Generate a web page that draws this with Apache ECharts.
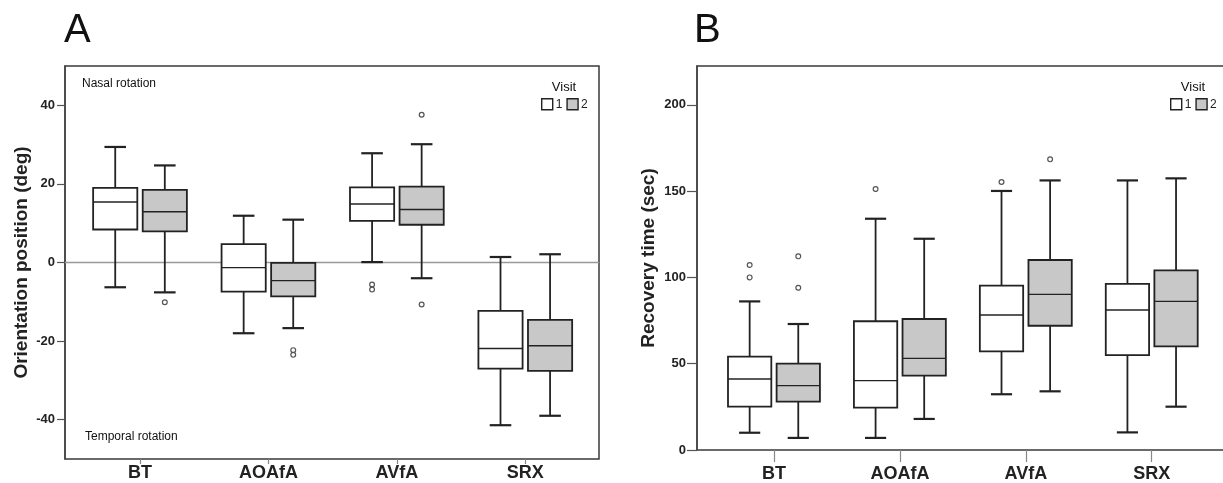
<!DOCTYPE html>
<html>
<head>
<meta charset="utf-8">
<script src="https://cdn.jsdelivr.net/npm/echarts@6.0.0/dist/echarts.min.js"></script>
<style>
  html, body { margin: 0; padding: 0; background: #fff; }
  #chart { width: 1223px; height: 483px; }
</style>
</head>
<body>
<div id="chart"></div>
<script>
const categories = ['BT', 'AOAfA', 'AVfA', 'SRX'];

// box stats per category: [lower whisker, Q1, median, Q3, upper whisker]
const orientVisit1 = [
  [-6.3, 8.4, 15.4, 19.0, 29.4],
  [-18.0, -7.4, -1.3, 4.7, 11.9],
  [0.1, 10.6, 14.9, 19.1, 27.8],
  [-41.4, -27.0, -21.9, -12.3, 1.4]
];
const orientVisit2 = [
  [-7.6, 7.9, 12.9, 18.5, 24.7],
  [-16.7, -8.6, -4.6, -0.1, 10.9],
  [-4.0, 9.6, 13.5, 19.3, 30.1],
  [-39.0, -27.6, -21.2, -14.6, 2.1]
];
// outliers: [category index, value]
const orientOut1 = [[2, -5.6], [2, -6.9]];
const orientOut2 = [[0, -10.1], [1, -22.3], [1, -23.5], [2, 37.6], [2, -10.7]];

const recovVisit1 = [
  [10.0, 25.1, 41.1, 54.1, 86.1],
  [7.0, 24.5, 40.2, 74.6, 134.0],
  [32.3, 57.2, 78.2, 95.2, 150.1],
  [10.2, 55.0, 81.1, 96.2, 156.2]
];
const recovVisit2 = [
  [7.0, 28.0, 37.3, 50.0, 73.0],
  [18.0, 43.1, 53.1, 75.9, 122.4],
  [34.0, 72.0, 90.2, 110.1, 156.2],
  [25.1, 60.1, 86.1, 104.1, 157.4]
];
const recovOut1 = [[0, 107.2], [0, 100.0], [1, 151.2], [2, 155.3]];
const recovOut2 = [[0, 112.2], [0, 94.0], [2, 168.4]];

const orientTicks = [-40, -20, 0, 20, 40];
const recovTicks = [0, 50, 100, 150, 200];
const zeroLine = 0;

const FONT = 'Liberation Sans, Arial, sans-serif';
const INK = '#222';
const GREY_FILL = '#c8c8c8';

function boxItem(side, fill) {
  return function (params, api) {
    const idx = api.value(0);
    const band = api.size([1, 0])[0];
    const cx = api.coord([idx, 0])[0] + side * band * 0.193;
    const hw = band * 0.172;
    const cw = band * 0.084;
    const y = k => api.coord([idx, api.value(k)])[1];
    const ln = (x1, y1, x2, y2, w) => ({
      type: 'line', shape: { x1, y1, x2, y2 }, style: { stroke: INK, lineWidth: w }
    });
    return {
      type: 'group',
      children: [
        ln(cx, y(1), cx, y(2), 1.8),
        ln(cx, y(4), cx, y(5), 1.8),
        ln(cx - cw, y(1), cx + cw, y(1), 2.2),
        ln(cx - cw, y(5), cx + cw, y(5), 2.2),
        {
          type: 'rect',
          shape: { x: cx - hw, y: y(4), width: hw * 2, height: y(2) - y(4) },
          style: { fill: fill, stroke: INK, lineWidth: 1.8 }
        },
        ln(cx - hw, y(3), cx + hw, y(3), 1.4)
      ]
    };
  };
}

function outlierItem(side) {
  return function (params, api) {
    const idx = api.value(0);
    const band = api.size([1, 0])[0];
    const p = api.coord([idx, api.value(1)]);
    return {
      type: 'circle',
      shape: { cx: p[0] + side * band * 0.193, cy: p[1], r: 2.4 },
      style: { fill: '#fff', stroke: '#555', lineWidth: 1.2 }
    };
  };
}

const boxData = arr => arr.map((d, i) => [i].concat(d));

function panelSeries(xi, v1, v2, o1, o2) {
  return [
    { name: '1', type: 'custom', xAxisIndex: xi, yAxisIndex: xi, renderItem: boxItem(-1, '#fff'),
      encode: { x: 0, y: [1, 2, 3, 4, 5] }, data: boxData(v1), z: 5 },
    { name: '2', type: 'custom', xAxisIndex: xi, yAxisIndex: xi, renderItem: boxItem(1, GREY_FILL),
      encode: { x: 0, y: [1, 2, 3, 4, 5] }, data: boxData(v2), z: 5 },
    { name: 'out1', type: 'custom', xAxisIndex: xi, yAxisIndex: xi, renderItem: outlierItem(-1),
      encode: { x: 0, y: 1 }, data: o1, z: 6 },
    { name: 'out2', type: 'custom', xAxisIndex: xi, yAxisIndex: xi, renderItem: outlierItem(1),
      encode: { x: 0, y: 1 }, data: o2, z: 6 }
  ];
}

function catAxis(gi, tickLen, margin) {
  return {
    gridIndex: gi, type: 'category', data: categories,
    axisLine: { show: false, onZero: false },
    axisTick: { show: true, alignWithLabel: true, length: tickLen, lineStyle: { color: '#888', width: 1.2 } },
    axisLabel: { color: INK, fontWeight: 'bold', fontSize: 18, fontFamily: FONT, margin: margin }
  };
}

function valAxis(gi, min, max, ticks, name, nameGap, tickLen, margin) {
  return {
    gridIndex: gi, type: 'value', min: min, max: max,
    name: name, nameLocation: 'middle', nameGap: nameGap, nameRotate: 90,
    nameTextStyle: { color: INK, fontWeight: 'bold', fontSize: 19, fontFamily: FONT },
    axisLine: { show: true, onZero: false, lineStyle: { color: '#444', width: 1.5 } },
    axisTick: { show: true, length: tickLen, customValues: ticks, lineStyle: { color: '#555', width: 1.2 } },
    axisLabel: { customValues: ticks, color: INK, fontWeight: 'bold', fontSize: 13, fontFamily: FONT, margin: margin },
    splitLine: { show: false }
  };
}

const hiddenY = (gi, min, max) => ({ gridIndex: gi, type: 'value', min: min, max: max, show: false, splitLine: { show: false } });
const hiddenX = gi => ({ gridIndex: gi, type: 'value', min: 0, max: 1, show: false, splitLine: { show: false } });

const legendBase = {
  orient: 'horizontal', icon: 'rect', itemWidth: 11, itemHeight: 11, itemGap: 4, padding: 0,
  selectedMode: false,
  textStyle: { fontSize: 12, color: INK, fontFamily: FONT, padding: [0, 0, 0, -2] },
  data: [
    { name: '1', itemStyle: { color: '#fff', borderColor: INK, borderWidth: 1.4 } },
    { name: '2', itemStyle: { color: GREY_FILL, borderColor: INK, borderWidth: 1.4 } }
  ]
};

const txt = (x, y, text, size, align) => ({
  type: 'text', x: x, y: y, z: 10,
  style: { text: text, fontSize: size, fontFamily: FONT, fill: '#111',
    align: align, textAlign: align, verticalAlign: 'middle', textVerticalAlign: 'middle' }
});

const chart = echarts.init(document.getElementById('chart'));
chart.setOption({
  animation: false,
  backgroundColor: '#fff',
  grid: [
    { left: 65, top: 66, width: 534, bottom: 24, show: true, borderColor: '#3a3a3a', borderWidth: 1.5,
      backgroundColor: 'transparent', outerBoundsMode: 'none' },
    { left: 75.8, top: 66, right: 633.5, bottom: 24, outerBoundsMode: 'none' },
    { left: 697, top: 66, width: 560, bottom: 33, show: true, borderColor: '#3a3a3a', borderWidth: 1.5,
      backgroundColor: 'transparent', outerBoundsMode: 'none' },
    { left: 711, top: 66, right: 8.3, bottom: 33, outerBoundsMode: 'none' }
  ],
  xAxis: [hiddenX(0), catAxis(1, 5, 5), hiddenX(2), catAxis(3, 12, 15)],
  yAxis: [
    valAxis(0, -50, 50, orientTicks, 'Orientation position (deg)', 34, 8, 10),
    hiddenY(1, -50, 50),
    valAxis(2, 0, 222.5, recovTicks, 'Recovery time (sec)', 39, 10, 11),
    hiddenY(3, 0, 222.5)
  ],
  legend: [
    Object.assign({}, legendBase, { left: 541, top: 98 }),
    Object.assign({}, legendBase, { left: 1170, top: 98 })
  ],
  graphic: [
    txt(64, 31, 'A', 40, 'left'),
    txt(694, 31, 'B', 40, 'left'),
    txt(82, 84, 'Nasal rotation', 12, 'left'),
    txt(85, 437, 'Temporal rotation', 12, 'left'),
    txt(564, 87, 'Visit', 13, 'center'),
    txt(1193, 87, 'Visit', 13, 'center')
  ],
  series: [
    { name: 'zero', type: 'line', xAxisIndex: 0, yAxisIndex: 0, symbol: 'none', silent: true,
      lineStyle: { color: '#999', width: 1.5 }, data: [[0, zeroLine], [1, zeroLine]], z: 1 }
  ].concat(
    panelSeries(1, orientVisit1, orientVisit2, orientOut1, orientOut2),
    panelSeries(3, recovVisit1, recovVisit2, recovOut1, recovOut2)
  )
});
</script>
</body>
</html>
